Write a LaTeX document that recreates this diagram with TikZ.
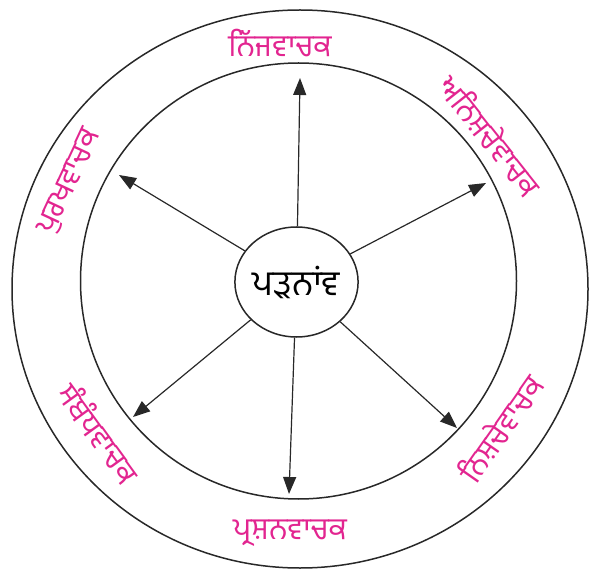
\documentclass[tikz,border=0pt]{standalone}
\usepackage{fontspec}
\newfontfamily\gurfont[Script=Gurmukhi]{Hind Jalandhar}
\usetikzlibrary{arrows.meta,shapes.geometric}
\definecolor{pinkc}{RGB}{226,37,144}
\definecolor{inkc}{RGB}{40,40,40}
\begin{document}
\begin{tikzpicture}[x=1pt,y=1pt,
  ringline/.style={draw=inkc, line width=1.5pt},
  lbl/.style={text=pinkc, font=\gurfont\fontsize{30.5}{34}\selectfont, inner sep=0pt},
  arr/.style={draw=inkc, line width=1.2pt, -{Triangle[length=17pt,width=13pt]}}]
\useasboundingbox (0,0) rectangle (594,571);
% rings
\node[ellipse, ringline, minimum width=576pt, minimum height=558pt, inner sep=0pt] (outer) at (300,282) {};
\node[circle, ringline, minimum size=436pt, inner sep=0pt] (inner) at (298.5,290) {};
% centre
\node[ellipse, ringline, minimum width=121pt, minimum height=110pt, inner sep=0pt,
      font=\gurfont\fontsize{35}{38}\selectfont] (c) at (296.5,289) {ਪੜਨਾਂਵ};
% arrow tips
\coordinate (tTop) at (300,493);
\coordinate (tUR) at (486,388);
\coordinate (tUL) at (119,396);
\coordinate (tLL) at (133,154);
\coordinate (tBot) at (289,77);
\coordinate (tLR) at (457,143);
\draw[arr] (c) -- (tTop);
\draw[arr] (c) -- (tUR);
\draw[arr] (c) -- (tUL);
\draw[arr] (c) -- (tLL);
\draw[arr] (c) -- (tBot);
\draw[arr] (c) -- (tLR);
% ring labels
\node[lbl] (lTop) at (280,528) {ਨਿੱਜਵਾਚਕ};
\node[lbl, rotate=-51.6] (lUR) at (491,436) {ਅਨਿਸ਼ਚੇਵਾਚਕ};
\node[lbl, rotate=65] (lL) at (70,389) {ਪੁਰਖਵਾਚਕ};
\node[lbl, rotate=-54] (lLL) at (100,138) {ਸੰਬੰਧਵਾਚਕ};
\node[lbl, rotate=55] (lLR) at (500,143) {ਨਿਸ਼ਚੇਵਾਚਕ};
\node[lbl] (lBot) at (290,38) {ਪ੍ਰਸ਼ਨਵਾਚਕ};
\end{tikzpicture}
\end{document}
